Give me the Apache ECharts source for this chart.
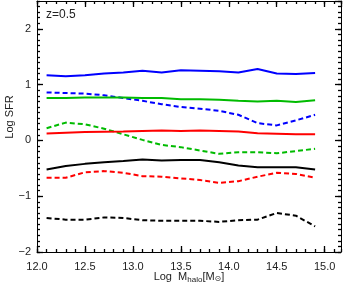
<!DOCTYPE html>
<html><head><meta charset="utf-8">
<script src="https://cdn.jsdelivr.net/npm/echarts@6/dist/echarts.min.js"></script>
<style>html,body{margin:0;padding:0;background:#fff}#c{width:346px;height:285px}</style>
</head><body><div id="c"></div>
<script>
var logMhalo = [12.1,12.3,12.5,12.7,12.9,13.1,13.3,13.5,13.7,13.9,14.1,14.3,14.5,14.7,14.9];
var blueSolid  = [1.17,1.15,1.17,1.20,1.22,1.25,1.22,1.26,1.25,1.24,1.22,1.28,1.20,1.19,1.21];
var blueDashed = [0.86,0.85,0.84,0.81,0.76,0.71,0.65,0.60,0.57,0.53,0.46,0.31,0.27,0.36,0.46];
var greenSolid = [0.76,0.76,0.77,0.77,0.77,0.76,0.76,0.74,0.74,0.73,0.71,0.70,0.71,0.69,0.72];
var greenDashed= [0.22,0.32,0.29,0.21,0.11,0.01,-0.08,-0.12,-0.18,-0.24,-0.21,-0.21,-0.23,-0.19,-0.15];
var redSolid   = [0.125,0.14,0.15,0.155,0.16,0.17,0.18,0.17,0.18,0.17,0.16,0.13,0.12,0.11,0.11];
var blackSolid = [-0.52,-0.46,-0.42,-0.39,-0.37,-0.34,-0.36,-0.35,-0.35,-0.39,-0.45,-0.48,-0.48,-0.48,-0.52];
var redDashed  = [-0.67,-0.67,-0.57,-0.55,-0.58,-0.64,-0.65,-0.68,-0.71,-0.76,-0.73,-0.65,-0.58,-0.60,-0.67];
var blackDashed= [-1.39,-1.42,-1.42,-1.38,-1.39,-1.43,-1.44,-1.44,-1.44,-1.46,-1.43,-1.42,-1.30,-1.35,-1.54];
var xTickLabels = ['12.0','12.5','13.0','13.5','14.0','14.5','15.0'];
var yTickLabels = ['\u22122','\u22121','0','1','2'];

var X_MIN = 12, X_MAX = 15.17, Y_MIN = -2, Y_MAX = 2.5;

function pairs(ys){ return logMhalo.map(function(x,i){return [x, ys[i]];}); }
function line(ys, color, dashed){
  return {type:'line', xAxisIndex:0, yAxisIndex:0, data:pairs(ys), symbol:'none', smooth:false, silent:true,
    lineStyle:{color:color, width:2, type: dashed ? [5,3] : 'solid'}};
}
var font = 'Liberation Sans';
var txt = '#222';
var chart = echarts.init(document.getElementById('c'), null, {renderer:'canvas'});

function tickAxis(min, max, interval, position, len, showLine){
  return {type:'value', min:min, max:max, interval:interval, position:position,
    axisLine:{show:!!showLine, onZero:false, lineStyle:{color:'#000', width:1}},
    axisTick:{show:true, inside:true, length:len, lineStyle:{color:'#000', width:1.3}},
    minorTick:{show:false}, splitLine:{show:false}, axisLabel:{show:false}};
}

var xAxes = [
  {type:'value', min:X_MIN, max:X_MAX, interval:0.5, position:'bottom',
    axisLine:{show:true, onZero:false, lineStyle:{color:'#000', width:1}},
    axisTick:{show:true, inside:true, length:6, lineStyle:{color:'#000', width:1.3}},
    minorTick:{show:false}, splitLine:{show:false},
    axisLabel:{color:txt, fontFamily:font, fontSize:11, margin:9, showMaxLabel:false,
      formatter:function(v){ var k=Math.round((v-12)/0.5); return Math.abs(v-12-k*0.5)<1e-6 ? xTickLabels[k] : ''; }},
    name:'{a|Log  M}{s|halo}{a|[M}{o|\u2299}{a|]}', nameLocation:'middle', nameGap:18, nameMoveOverlap:false,
    nameTextStyle:{rich:{a:{fontFamily:font,fontSize:11,color:txt},
      s:{fontFamily:font,fontSize:8,color:txt,verticalAlign:'bottom',padding:[6,0,0,0]},
      o:{fontFamily:'DejaVu Sans',fontSize:8,color:txt,padding:[3,0,0,0]}}}},
  tickAxis(X_MIN, X_MAX, 0.1, 'bottom', 3, false),
  tickAxis(X_MIN, X_MAX, 0.5, 'top', 6, true),
  tickAxis(X_MIN, X_MAX, 0.1, 'top', 3, false)
];
var yAxes = [
  {type:'value', min:Y_MIN, max:Y_MAX, interval:1, position:'left',
    axisLine:{show:true, onZero:false, lineStyle:{color:'#000', width:1}},
    axisTick:{show:true, inside:true, length:6, lineStyle:{color:'#000', width:1.3}},
    minorTick:{show:false}, splitLine:{show:false},
    axisLabel:{color:txt, fontFamily:font, fontSize:11, margin:6, showMaxLabel:false,
      formatter:function(v){ var k=Math.round(v+2); return Math.abs(v+2-k)<1e-6 ? yTickLabels[k] : ''; }}},
  tickAxis(Y_MIN, Y_MAX, 0.1, 'left', 3, false),
  tickAxis(Y_MIN, Y_MAX, 1, 'right', 6, true),
  tickAxis(Y_MIN, Y_MAX, 0.1, 'right', 3, false)
];

chart.setOption({
  animation:false,
  backgroundColor:'#fff',
  grid:{left:37, right:5, top:1, bottom:33, containLabel:false, outerBoundsMode:'none'},
  xAxis:xAxes,
  yAxis:yAxes,
  graphic:[
    {type:'text', left:46, top:9, style:{text:'z=0.5', fontFamily:font, fontSize:12, fill:txt}},
    {type:'text', x:4.5, y:117, rotation:Math.PI/2, style:{text:'Log SFR', fontFamily:font, fontSize:11, fill:txt, align:'center', verticalAlign:'top'}}
  ],
  series:[
    line(blueSolid,'#0000ff',false),
    line(blueDashed,'#0000ff',true),
    line(greenSolid,'#00bb00',false),
    line(greenDashed,'#00bb00',true),
    line(redSolid,'#ff0000',false),
    line(blackSolid,'#000000',false),
    line(redDashed,'#ff0000',true),
    line(blackDashed,'#000000',true)
  ]
});
</script></body></html>
